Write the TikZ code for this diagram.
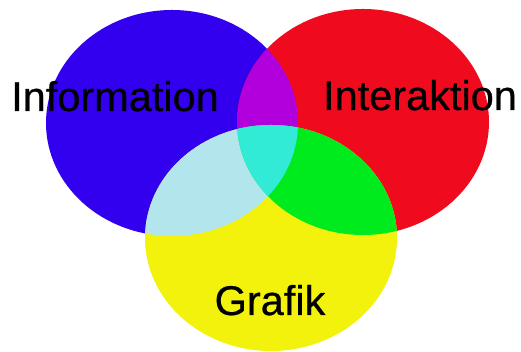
\documentclass[tikz,border=0pt]{standalone}
\usepackage{fontspec}
\setmainfont{Liberation Sans}
\newfontfamily\lblfont[FakeBold=0.6]{Liberation Sans}
\usepackage{tikz}
\definecolor{infoblue}{RGB}{50,0,238}
\definecolor{interred}{RGB}{240,10,30}
\definecolor{grafyel}{RGB}{242,242,12}
\definecolor{ovpurple}{RGB}{178,0,220}
\definecolor{ovlblue}{RGB}{178,230,236}
\definecolor{ovgreen}{RGB}{0,235,30}
\definecolor{ovcyan}{RGB}{50,235,215}

% set outlines (centre, radii in pt)
\def\infoset{(172,229) ellipse [x radius=126pt, y radius=113pt]}
\def\interset{(363,230) ellipse [x radius=126pt, y radius=113pt]}
\def\grafset{(271,114) ellipse [x radius=126pt, y radius=113pt]}

\begin{document}
\begin{tikzpicture}[
  x=1pt, y=1pt,
  % Set label
  lbl/.style = {font=\lblfont\fontsize{41.5}{41.5}\selectfont, text=black,
                inner sep=0pt, anchor=base}
]
\useasboundingbox (0,0) rectangle (521,352);

% Base sets
\fill[infoblue]  \infoset;
\fill[interred]  \interset;
\fill[grafyel]   \grafset;

% Pairwise overlaps
\begin{scope}
  \clip \infoset;
  \fill[ovpurple] \interset;
  \fill[ovlblue]  \grafset;
\end{scope}
\begin{scope}
  \clip \interset;
  \fill[ovgreen]  \grafset;
\end{scope}

% Centre (all three)
\begin{scope}
  \clip \infoset;
  \clip \interset;
  \fill[ovcyan]   \grafset;
\end{scope}

% Labels
\node[lbl](INF) at (115,241){Information};
\node[lbl](INT) at (420,242){Interaktion};
\node[lbl](GRA) at (270, 37){Grafik};

\end{tikzpicture}
\end{document}
